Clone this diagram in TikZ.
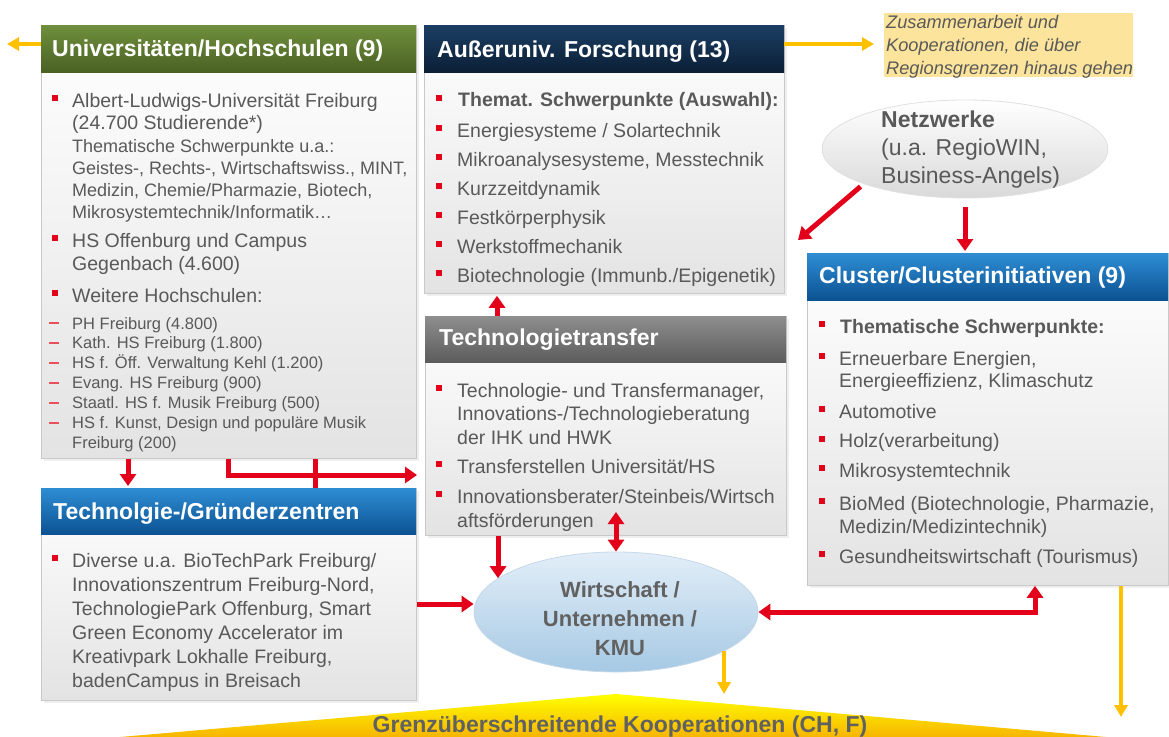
\documentclass[tikz,border=0pt]{standalone}
\usepackage{fontspec}
\setmainfont{Liberation Sans}
\usetikzlibrary{arrows.meta,shapes.geometric,shadows}
\definecolor{txtgray}{HTML}{595959}
\definecolor{bulred}{HTML}{E2001A}
\definecolor{dashred}{HTML}{E8505B}
\definecolor{arrred}{HTML}{E2001A}
\definecolor{arryel}{HTML}{FFC000}
\definecolor{greenT}{HTML}{6F8F3C}
\definecolor{greenB}{HTML}{4A6124}
\definecolor{navyT}{HTML}{1C3E63}
\definecolor{navyB}{HTML}{0B1F36}
\definecolor{grayT}{HTML}{8E8E8E}
\definecolor{grayB}{HTML}{5C5C5C}
\definecolor{blueT}{HTML}{2F8DD4}
\definecolor{blueB}{HTML}{0B5292}
\definecolor{bodyB}{HTML}{E3E3E3}
\definecolor{boxline}{HTML}{C9C9C9}
\definecolor{notefill}{HTML}{FCE49C}
\definecolor{wirtT}{HTML}{E2EEF8}
\definecolor{wirtB}{HTML}{A6C9E4}
\definecolor{wirtline}{HTML}{C4D8EA}
\definecolor{netzB}{HTML}{D9D9D9}
\definecolor{triT}{HTML}{FFFF00}
\definecolor{triB}{HTML}{F7B500}
\definecolor{darktxt}{HTML}{616161}
\newcommand\ml[1]{\parbox[t]{420pt}{\raggedright #1}}
\newcommand\bul[2]{\fill[bulred] ({#1-3},{#2-3}) rectangle ++(6,6);}
\newcommand\dsh[2]{\draw[dashred, line width=2pt] (#1,#2) -- ++(10,0);}
\begin{document}
\begin{tikzpicture}[x=1pt,y=-1pt,
  bodybox/.style={anchor=north west, inner sep=0pt, draw=boxline, line width=0.8pt, top color=white, bottom color=bodyB, drop shadow={opacity=0.12, shadow xshift=2.5pt, shadow yshift=-2.5pt}},
  hdrbox/.style={anchor=north west, inner sep=0pt, draw=none},
  hdrtxt/.style={anchor=base west, inner sep=0pt, text=white, font=\fontsize{23}{26}\selectfont\bfseries},
  txt/.style={anchor=base west, inner sep=0pt, text=txtgray, font=\fontsize{19.5}{23.5}\selectfont},
  redarr/.style={draw=arrred, line width=5pt, -{Triangle[width=16pt,length=12pt]}},
  reddbl/.style={draw=arrred, line width=5pt, {Triangle[width=16pt,length=12pt]}-{Triangle[width=16pt,length=12pt]}},
  redline/.style={draw=arrred, line width=5pt},
  yelarr/.style={draw=arryel, line width=3.5pt, -{Triangle[width=13pt,length=12pt]}}
]
\useasboundingbox (0,0) rectangle (1169,736);
\fill[white] (0,0) rectangle (1169,736);

% bottom triangle
\shade[top color=triT, bottom color=triB] (120,737) -- (616,694) -- (1106,737) -- cycle;
\coordinate (tripeak) at (616,694);
\node[anchor=base, inner sep=0pt, text=darktxt, font=\fontsize{23}{26}\selectfont\bfseries] (tri) at (620,732) {Grenzüberschreitende Kooperationen (CH, F)};

% Universitaeten
\node[bodybox, minimum width=375pt, minimum height=433pt] (uni) at (41,25) {};
\node[hdrbox, top color=greenT, bottom color=greenB, minimum width=375pt, minimum height=47pt] (unih) at (41,25) {};
\node[hdrtxt] (unit) at (52,56) {Universitäten/Hochschulen (9)};
\node[txt, font=\fontsize{19.5}{22}\selectfont] (u1a) at (72,107) {\ml{Albert-Ludwigs-Universität Freiburg\\(24.700 Studierende*)}};
\node[txt, font=\fontsize{18}{22}\selectfont] (u1b) at (72,152) {\ml{Thematische Schwerpunkte u.a.:\\Geistes-, Rechts-, Wirtschaftswiss., MINT,\\Medizin, Chemie/Pharmazie, Biotech,\\Mikrosystemtechnik/Informatik…}};
\node[txt] (u2) at (72,247) {\ml{HS Offenburg und Campus\\Gegenbach (4.600)}};
\node[txt] (u3) at (72,302) {Weitere Hochschulen:};
\node[txt, font=\fontsize{16.5}{19.9}\selectfont] (u4) at (72,329) {\ml{PH Freiburg (4.800)\\Kath. HS Freiburg (1.800)\\HS f. Öff. Verwaltung Kehl (1.200)\\Evang. HS Freiburg (900)\\Staatl. HS f. Musik Freiburg (500)\\HS f. Kunst, Design und populäre Musik\\Freiburg (200)}};
\bul{54.5}{98} \bul{54.5}{238} \bul{54.5}{293}
\dsh{49}{323} \dsh{49}{343} \dsh{49}{363} \dsh{49}{383} \dsh{49}{402.5} \dsh{49}{422.5}

% Ausseruniv. Forschung
\node[bodybox, minimum width=360pt, minimum height=268pt] (au) at (424,25) {};
\node[hdrbox, top color=navyT, bottom color=navyB, minimum width=360pt, minimum height=47pt] (auh) at (424,25) {};
\node[hdrtxt] (aut) at (437,57.5) {Außeruniv. Forschung (13)};
\node[txt, font=\fontsize{19.5}{23}\selectfont\bfseries] (a0) at (458,106) {Themat. Schwerpunkte (Auswahl):};
\node[txt, font=\fontsize{19.5}{29}\selectfont] (a1) at (457,137) {\ml{Energiesysteme / Solartechnik\\Mikroanalysesysteme, Messtechnik\\Kurzzeitdynamik\\Festkörperphysik\\Werkstoffmechanik\\Biotechnologie (Immunb./Epigenetik)}};
\bul{438.5}{98} \bul{438.5}{128} \bul{438.5}{157} \bul{438.5}{186} \bul{438.5}{215} \bul{438.5}{244} \bul{438.5}{273}

% Technologietransfer
\node[bodybox, minimum width=361pt, minimum height=219pt] (tt) at (425,316) {};
\node[hdrbox, top color=grayT, bottom color=grayB, minimum width=361pt, minimum height=46pt] (tth) at (425,316) {};
\node[hdrtxt] (ttt) at (439,345) {Technologietransfer};
\node[txt] (t1) at (457,397) {\ml{Technologie- und Transfermanager,\\Innovations-/Technologieberatung\\der IHK und HWK}};
\node[txt] (t2) at (457,473) {Transferstellen Universität/HS};
\node[txt, font=\fontsize{19.5}{24}\selectfont] (t3) at (457,503) {\ml{Innovationsberater/Steinbeis/Wirtsch\\aftsförderungen}};
\bul{439}{388} \bul{439}{464} \bul{439}{494}

% Gruenderzentren
\node[bodybox, minimum width=375pt, minimum height=212pt] (grz) at (41,488) {};
\node[hdrbox, top color=blueT, bottom color=blueB, minimum width=375pt, minimum height=46pt] (grzh) at (41,488) {};
\node[hdrtxt] (grzt) at (53,519) {Technolgie-/Gründerzentren};
\node[txt, font=\fontsize{19.5}{24}\selectfont] (g1) at (72,567) {\ml{Diverse u.a. BioTechPark Freiburg/\\Innovationszentrum Freiburg-Nord,\\TechnologiePark Offenburg, Smart\\Green Economy Accelerator im\\Kreativpark Lokhalle Freiburg,\\badenCampus in Breisach}};
\bul{54.5}{558}

% Cluster
\node[bodybox, minimum width=361pt, minimum height=332pt] (cl) at (807,253) {};
\node[hdrbox, top color=blueT, bottom color=blueB, minimum width=361pt, minimum height=47pt] (clh) at (807,253) {};
\node[hdrtxt] (clt) at (819,283) {Cluster/Clusterinitiativen (9)};
\node[txt, font=\fontsize{19.5}{23}\selectfont\bfseries] (c0) at (840,333) {Thematische Schwerpunkte:};
\node[txt, font=\fontsize{19.5}{22.5}\selectfont] (c1) at (839,365) {\ml{Erneuerbare Energien,\\Energieeffizienz, Klimaschutz}};
\node[txt] (c2) at (839,418) {Automotive};
\node[txt] (c3) at (839,447.5) {Holz(verarbeitung)};
\node[txt] (c4) at (839,477) {Mikrosystemtechnik};
\node[txt, font=\fontsize{19.5}{23}\selectfont] (c5) at (839,510) {\ml{BioMed (Biotechnologie, Pharmazie,\\Medizin/Medizintechnik)}};
\node[txt] (c6) at (839,563) {Gesundheitswirtschaft (Tourismus)};
\bul{822}{324} \bul{822}{356} \bul{822}{409} \bul{822}{438.5} \bul{822}{468} \bul{822}{501} \bul{822}{554}

% Note
\node[anchor=north west, fill=notefill, minimum width=249pt, minimum height=64pt, inner sep=0pt] (note) at (884,13) {};
\node[txt, font=\fontsize{18.2}{23}\selectfont\itshape] (nt) at (886,28) {\ml{Zusammenarbeit und\\Kooperationen, die über\\Regionsgrenzen hinaus gehen}};

% Netzwerke
\node[ellipse, inner sep=0pt, minimum width=286pt, minimum height=98pt, top color=white, bottom color=netzB, draw=black!12, line width=0.8pt] (netz) at (965,149) {};
\node[txt, font=\fontsize{23}{28}\selectfont] (nzt) at (881,127) {\ml{\textbf{Netzwerke}\\(u.a. RegioWIN,\\Business-Angels)}};

% Wirtschaft
\node[ellipse, inner sep=0pt, minimum width=284pt, minimum height=120pt, top color=wirtT, bottom color=wirtB, draw=wirtline, line width=0.8pt] (wirt) at (616,612) {};
\node[anchor=base, inner sep=0pt, text=darktxt, font=\fontsize{22}{29}\selectfont\bfseries] (wt) at (620,597) {\parbox[t]{220pt}{\centering Wirtschaft /\\Unternehmen /\\KMU}};

% red connectors
\draw[redarr, shorten >=2pt] (128,0 |- uni.south) -- (128,0 |- grz.north);
\draw[redline] (315,0 |- uni.south) -- (315,0 |- grz.north);
\draw[redarr, shorten >=8pt] (228,0 |- uni.south) |- (tt.west |- 0,475);
\draw[redarr, shorten >=2pt] (497,0 |- tt.north) -- (497,0 |- au.south);
\coordinate (dtip) at (798,240);
\draw[redarr, shorten <=4pt] (netz.199) -- (dtip);
\draw[redarr, shorten <=9pt, shorten >=2pt] (netz.south) -- (netz.south |- cl.north);
\draw[redarr] (grz.east |- 0,604) -- (wirt.west |- 0,604);
\draw[redarr] (wirt.164 |- tt.south) -- (wirt.164);
\draw[reddbl] (wirt.north |- 0,512) -- (wirt.north);
\draw[reddbl] (wirt.east) -| (1035,0 |- cl.south);

% yellow connectors
\coordinate (lout) at (7,44);
\draw[yelarr] (unih.west |- lout) -- (lout);
\draw[yelarr, shorten >=10pt] (auh.east |- 0,44) -- (note.west |- 0,44);
\draw[yelarr] (wirt.-20) -- (wirt.-20 |- tripeak);
\coordinate (bout) at (1121,717);
\draw[yelarr] (1121,0 |- cl.south) -- (bout);
\end{tikzpicture}
\end{document}
